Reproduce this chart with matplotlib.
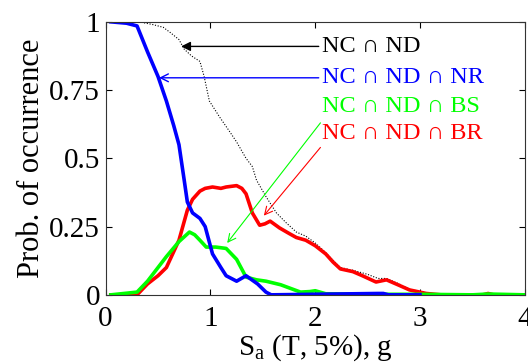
import matplotlib
matplotlib.use("Agg")
import matplotlib.pyplot as plt

plt.rcParams['font.family'] = ['Liberation Serif', 'DejaVu Serif']
plt.rcParams['mathtext.fontset'] = 'custom'
plt.rcParams['mathtext.rm'] = 'Liberation Serif'

# NC ∩ ND (dotted black)
nd_x = [0.05, 0.2, 0.32, 0.45, 0.55, 0.62, 0.70, 0.75, 0.82, 0.90, 0.94, 0.99, 1.09, 1.18, 1.25, 1.34,
        1.40, 1.44, 1.53, 1.63, 1.72, 1.82, 1.91, 2.0, 2.1, 2.24, 2.36, 2.5, 2.6, 2.68, 2.8, 2.9, 3.06, 3.2, 4.0]
nd_y = [1.0, 1.0, 1.0, 0.99, 0.98, 0.96, 0.935, 0.90, 0.875, 0.855, 0.80, 0.71, 0.65, 0.60, 0.56, 0.50,
        0.47, 0.42, 0.36, 0.30, 0.265, 0.23, 0.215, 0.19, 0.155, 0.10, 0.09, 0.075, 0.06, 0.06, 0.04, 0.02, 0.008, 0.0, 0.0]

# NC ∩ ND ∩ NR (blue)
nr_x = [0.05, 0.2, 0.3, 0.4, 0.5, 0.58, 0.65, 0.7, 0.75, 0.78, 0.83, 0.9, 0.95, 1.02, 1.1, 1.15, 1.25, 1.34,
        1.45, 1.53, 1.58, 2.6, 2.65, 2.7, 2.9, 3.0]
nr_y = [1.0, 0.995, 0.985, 0.89, 0.8, 0.71, 0.62, 0.55, 0.42, 0.34, 0.30, 0.28, 0.25, 0.15, 0.10, 0.07, 0.05, 0.07,
        0.04, 0.01, 0.0, 0.005, 0.005, 0.0, 0.0, 0.0]

# NC ∩ ND ∩ BS (green)
bs_x = [0.05, 0.3, 0.4, 0.5, 0.58, 0.7, 0.8, 0.85, 0.9, 0.96, 1.05, 1.15, 1.25, 1.34, 1.44, 1.53, 1.67,
        1.86, 1.95, 2.0, 2.1, 2.5, 3.0, 3.5, 3.65, 4.0]
bs_y = [0.0, 0.01, 0.05, 0.10, 0.14, 0.195, 0.23, 0.22, 0.20, 0.175, 0.175, 0.17, 0.13, 0.065, 0.055, 0.05, 0.037,
        0.01, 0.012, 0.015, 0.004, 0.002, 0.002, 0.0, 0.003, 0.0]

# NC ∩ ND ∩ BR (red)
br_x = [0.05, 0.3, 0.4, 0.5, 0.58, 0.7, 0.78, 0.83, 0.9, 0.95, 1.02, 1.1, 1.15, 1.25, 1.3, 1.34, 1.4, 1.47,
        1.52, 1.57, 1.66, 1.75, 1.82, 1.91, 2.0, 2.1, 2.17, 2.24, 2.36, 2.45, 2.58, 2.68, 2.8, 2.9, 3.06,
        3.2, 3.6, 3.65, 3.7, 4.0]
br_y = [0.0, 0.0, 0.04, 0.07, 0.10, 0.20, 0.31, 0.35, 0.38, 0.39, 0.395, 0.39, 0.395, 0.40, 0.39, 0.37, 0.30, 0.255,
        0.26, 0.27, 0.245, 0.225, 0.21, 0.20, 0.18, 0.15, 0.12, 0.095, 0.085, 0.07, 0.047, 0.055, 0.035, 0.018, 0.005,
        0.0, 0.0, 0.005, 0.0, 0.0]

labels = ['NC ∩ ND', 'NC ∩ ND ∩ NR', 'NC ∩ ND ∩ BS', 'NC ∩ ND ∩ BR']
x_ticks = [0, 1, 2, 3, 4]
y_ticks = [0, 0.25, 0.5, 0.75, 1]
y_ticklabels = ['0', '0.25', '0.5', '0.75', '1']

fig = plt.figure(figsize=(5.28, 3.64), dpi=100)
ax = fig.add_axes([0.2, 0.19, 0.794, 0.75])

ax.plot(nd_x, nd_y, color='black', lw=0.8, ls=(0, (1, 1.5)))
ax.plot(br_x, br_y, color='#ff0000', lw=2.6)
ax.plot(bs_x, bs_y, color='#00ff00', lw=2.6)
ax.plot(nr_x, nr_y, color='#0000ff', lw=2.6)

ax.set_xlim(0, 4)
ax.set_ylim(0, 1)
ax.set_xticks(x_ticks)
ax.set_yticks(y_ticks)
ax.set_yticklabels(y_ticklabels)
ax.tick_params(direction='in', top=True, right=True, labelsize=21, length=4, width=0.8)
ax.tick_params(axis='x', pad=8)
ax.tick_params(axis='y', pad=4)
for s in ax.spines.values():
    s.set_linewidth(0.8)
    s.set_color('#333333')

ax.set_xlabel(r'S$_\mathregular{a}$ (T, 5%), g', fontsize=21, labelpad=0)
ax.set_ylabel('Prob. of occurrence', fontsize=22, labelpad=2)

tx = 2.06
fs = 17.5
ax.annotate(labels[0], xy=(0.72, 0.91), xytext=(tx, 0.91), color='black', fontsize=fs, va='center',
            arrowprops=dict(arrowstyle='-|>', color='black', lw=1.0, shrinkA=0, shrinkB=0, mutation_scale=14))
ax.annotate(labels[1], xy=(0.51, 0.795), xytext=(tx, 0.795), color='#0000ff', fontsize=fs, va='center',
            arrowprops=dict(arrowstyle='->', color='#0000ff', lw=1.0, shrinkA=0, shrinkB=0, mutation_scale=14))
ax.text(tx, 0.69, labels[2], color='#00ff00', fontsize=fs, va='center')
ax.annotate('', xy=(1.16, 0.19), xytext=(2.05, 0.63),
            arrowprops=dict(arrowstyle='->', color='#00ff00', lw=0.8, shrinkA=0, shrinkB=0, mutation_scale=14))
ax.text(tx, 0.59, labels[3], color='#ff0000', fontsize=fs, va='center')
ax.annotate('', xy=(1.51, 0.29), xytext=(2.05, 0.54),
            arrowprops=dict(arrowstyle='->', color='#ff0000', lw=0.8, shrinkA=0, shrinkB=0, mutation_scale=14))

fig.savefig('out.png', dpi=100)
